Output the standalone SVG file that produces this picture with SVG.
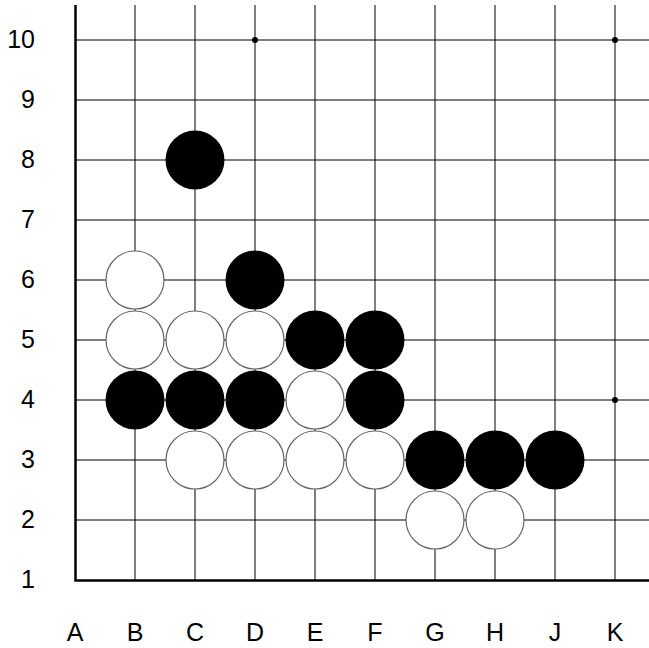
<svg xmlns="http://www.w3.org/2000/svg" width="649" height="648" viewBox="0 0 649 648">
<style>
.g{stroke:#000;stroke-width:1;fill:none}
.e{stroke:#000;stroke-width:2.5;fill:none}
.b{fill:#000}
.w{fill:#fff;stroke:#666;stroke-width:1.2}
.lbl{font-family:"Liberation Sans",Arial,sans-serif;font-size:25px;fill:#000}
.r{text-anchor:end}
.c{text-anchor:middle}
</style>
<rect width="649" height="648" fill="#fff"/>
<g id="grid">
<path class="g" d="M75 40H649M75 100H649M75 160H649M75 220H649M75 280H649M75 340H649M75 400H649M75 460H649M75 520H649"/>
<path class="g" d="M135 5V580M195 5V580M255 5V580M315 5V580M375 5V580M435 5V580M495 5V580M555 5V580M615 5V580"/>
<path class="e" d="M75.5 5V580.5H649"/>
<circle class="b" cx="255" cy="40" r="3"/>
<circle class="b" cx="615" cy="40" r="3"/>
<circle class="b" cx="615" cy="400" r="3"/>
</g>
<g id="rows" class="lbl r">
<text x="35" y="48">10</text>
<text x="35" y="108">9</text>
<text x="35" y="168">8</text>
<text x="35" y="228">7</text>
<text x="35" y="288">6</text>
<text x="35" y="348">5</text>
<text x="35" y="408">4</text>
<text x="35" y="468">3</text>
<text x="35" y="528">2</text>
<text x="35" y="588">1</text>
</g>
<g id="cols" class="lbl c">
<text x="75" y="641">A</text>
<text x="135" y="641">B</text>
<text x="195" y="641">C</text>
<text x="255" y="641">D</text>
<text x="315" y="641">E</text>
<text x="375" y="641">F</text>
<text x="435" y="641">G</text>
<text x="495" y="641">H</text>
<text x="555" y="641">J</text>
<text x="615" y="641">K</text>
</g>
<g id="stones">
<g id="C8"><circle class="b" cx="195" cy="160" r="29.5"/></g>
<g id="D6"><circle class="b" cx="255" cy="280" r="29.5"/></g>
<g id="E5"><circle class="b" cx="315" cy="340" r="29.5"/></g>
<g id="F5"><circle class="b" cx="375" cy="340" r="29.5"/></g>
<g id="B4"><circle class="b" cx="135" cy="400" r="29.5"/></g>
<g id="C4"><circle class="b" cx="195" cy="400" r="29.5"/></g>
<g id="D4"><circle class="b" cx="255" cy="400" r="29.5"/></g>
<g id="F4"><circle class="b" cx="375" cy="400" r="29.5"/></g>
<g id="G3"><circle class="b" cx="435" cy="460" r="29.5"/></g>
<g id="H3"><circle class="b" cx="495" cy="460" r="29.5"/></g>
<g id="J3"><circle class="b" cx="555" cy="460" r="29.5"/></g>
<g id="B6"><circle class="w" cx="135" cy="280" r="29"/></g>
<g id="B5"><circle class="w" cx="135" cy="340" r="29"/></g>
<g id="C5"><circle class="w" cx="195" cy="340" r="29"/></g>
<g id="D5"><circle class="w" cx="255" cy="340" r="29"/></g>
<g id="E4"><circle class="w" cx="315" cy="400" r="29"/></g>
<g id="C3"><circle class="w" cx="195" cy="460" r="29"/></g>
<g id="D3"><circle class="w" cx="255" cy="460" r="29"/></g>
<g id="E3"><circle class="w" cx="315" cy="460" r="29"/></g>
<g id="F3"><circle class="w" cx="375" cy="460" r="29"/></g>
<g id="G2"><circle class="w" cx="435" cy="520" r="29"/></g>
<g id="H2"><circle class="w" cx="495" cy="520" r="29"/></g>
</g>
</svg>
